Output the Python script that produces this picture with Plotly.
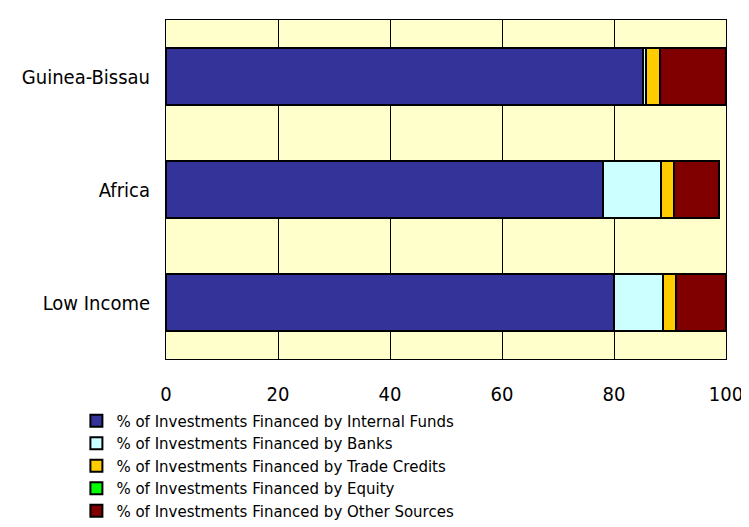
import plotly.graph_objects as go

categories = ["Guinea-Bissau", "Africa", "Low Income"]
internal_funds = [85.2, 78.1, 80.0]
banks = [0.6, 10.3, 8.8]
trade_credits = [2.4, 2.3, 2.3]
equity = [0.0, 0.0, 0.0]
other_sources = [11.8, 8.0, 8.9]

series_names = [
    "% of Investments Financed by Internal Funds",
    "% of Investments Financed by Banks",
    "% of Investments Financed by Trade Credits",
    "% of Investments Financed by Equity",
    "% of Investments Financed by Other Sources",
]
series_values = [internal_funds, banks, trade_credits, equity, other_sources]
colors = ["#333399", "#CCFFFF", "#FFCC00", "#00FF00", "#800000"]

x_ticks = [0, 20, 40, 60, 80, 100]

fig = go.Figure()
for name, vals, col in zip(series_names, series_values, colors):
    fig.add_trace(go.Bar(
        y=categories, x=vals, name=name, orientation="h",
        marker=dict(color=col, line=dict(color="#000000", width=2)),
    ))

tick_font = "DejaVu Sans Condensed, DejaVu Sans"
fig.update_layout(
    width=749, height=527,
    barmode="stack", bargap=0.5,
    paper_bgcolor="white", plot_bgcolor="#FFFFCC",
    margin=dict(l=158, r=31, t=12, b=176, autoexpand=False),
    font=dict(family=tick_font, size=20, color="#000000"),
    showlegend=True,
    legend=dict(
        x=-0.16, y=-0.134, xanchor="left", yanchor="top",
        traceorder="normal", font=dict(size=15, family="DejaVu Sans"),
        itemwidth=30, tracegroupgap=0, bgcolor="rgba(0,0,0,0)",
    ),
    xaxis=dict(
        range=[0, 100], tickvals=x_ticks, ticks="", showgrid=True,
        gridcolor="#000000", gridwidth=1, zeroline=False,
        showline=True, linecolor="#000000", linewidth=1, mirror=True,
        tickfont=dict(size=20), automargin=False, ticklabelstandoff=17,
    ),
    yaxis=dict(
        categoryorder="array", categoryarray=categories, autorange="reversed",
        showline=True, linecolor="#000000", linewidth=1, mirror=True,
        ticks="", tickfont=dict(size=20), showgrid=False, automargin=False,
        ticklabelstandoff=11,
    ),
)

fig.write_html("out.html")
